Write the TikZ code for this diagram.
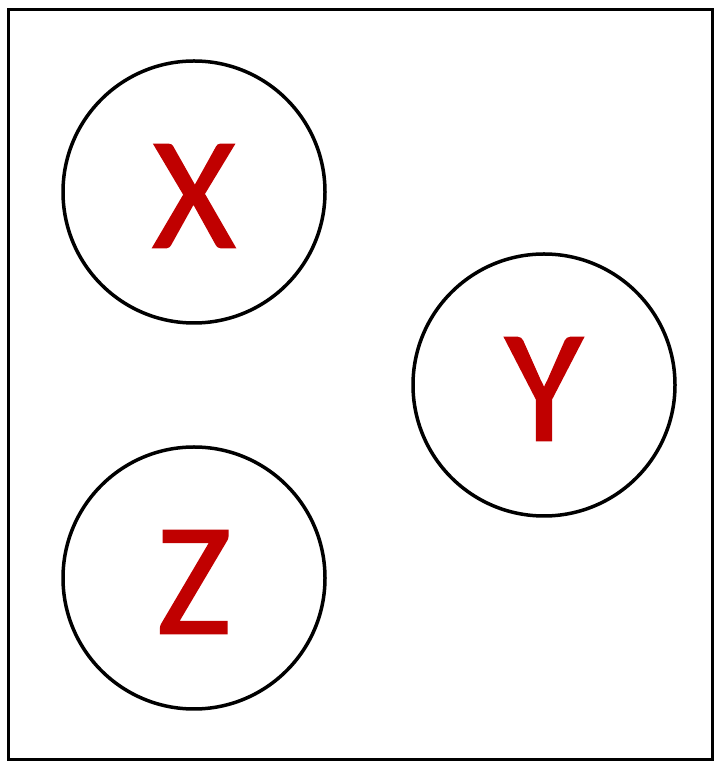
\documentclass[tikz,border=0pt]{standalone}
\usepackage{xcolor}
\usepackage{fontspec}
\setmainfont{Carlito}
\newfontfamily\letterfont[FakeBold=1.2]{Carlito}
\usepackage{tikz}

\definecolor{letterred}{RGB}{192,0,0}
\newcommand{\lowletter}[1]{\raisebox{-4pt}[\height][\depth]{#1}}
\tikzset{
  ball/.style={draw=black,line width=3.5pt,circle,minimum size=262pt,inner sep=0pt,
    text=letterred,font=\letterfont\fontsize{160}{160}\selectfont},
}

\begin{document}
\begin{tikzpicture}[x=1pt,y=1pt]
      \useasboundingbox (0,0) rectangle (720,771);
      \draw[line width=3pt] (8,11) rectangle (712,761);
      \node[ball] (varx) at (194,579) {\lowletter{X}};
      \node[ball] (vary) at (544,386) {\lowletter{Y}};
      \node[ball] (varz) at (194,193) {\lowletter{Z}};
    \end{tikzpicture}
\end{document}
